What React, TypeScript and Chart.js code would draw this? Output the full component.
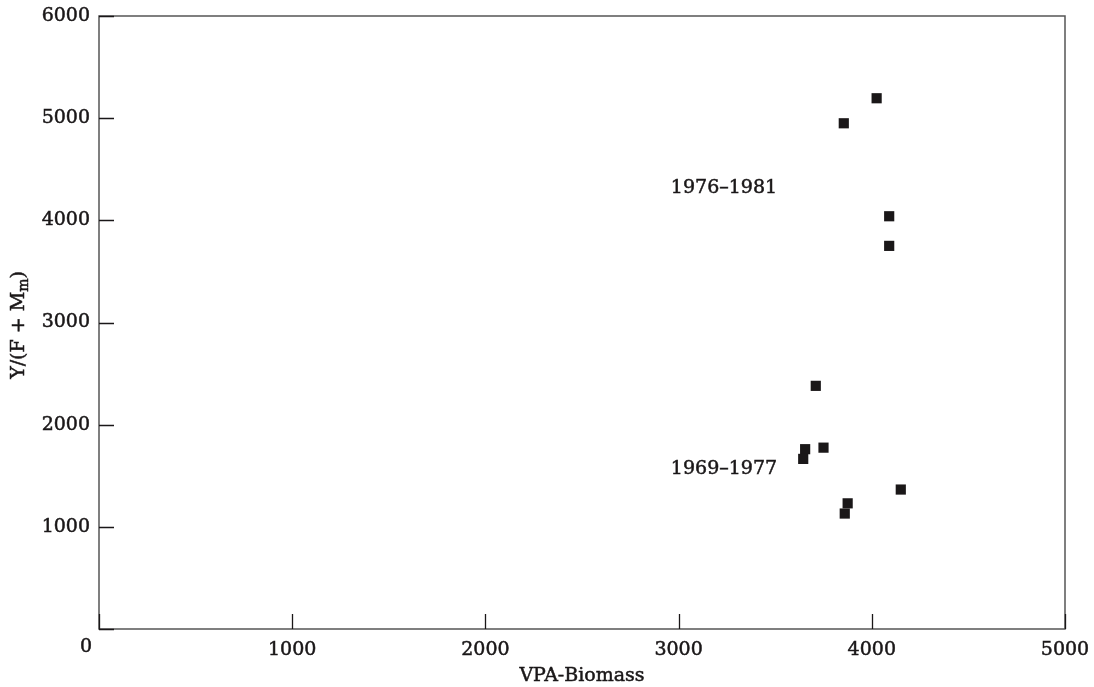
import React, { useEffect, useRef } from "react";
import { Chart, registerables } from "chart.js";

Chart.register(...registerables);

const biomass: number[] = [4025, 3855, 4090, 4090, 3710, 3655, 3645, 3750, 4150, 3875, 3860];
const yieldRatio: number[] = [5195, 4950, 4040, 3750, 2380, 1760, 1665, 1775, 1365, 1230, 1130];

const xTicks: number[] = [0, 1000, 2000, 3000, 4000, 5000];
const yTicks: number[] = [0, 1000, 2000, 3000, 4000, 5000, 6000];

const groupLabels: string[] = ["1976–1981", "1969–1977"];
const groupLabelX: number[] = [2960, 2960];
const groupLabelY: number[] = [4320, 1570];

const FONT = "'DejaVu Serif', serif";
const INK = "#1a1718";
const STROKE = 0.5;

function fillBold(ctx: CanvasRenderingContext2D, t: string, x: number, y: number) {
  ctx.fillText(t, x, y);
  ctx.strokeText(t, x, y);
}

const decorPlugin = {
  id: "decor",
  afterDraw(chart: any) {
    const { ctx, chartArea: a, scales } = chart;
    const xs = scales.x;
    const ys = scales.y;
    ctx.save();
    // frame
    ctx.strokeStyle = "#555";
    ctx.lineWidth = 1.5;
    ctx.strokeRect(a.left, a.top, a.right - a.left, a.bottom - a.top);
    // inward ticks
    ctx.strokeStyle = INK;
    ctx.lineWidth = 1.3;
    ctx.beginPath();
    xTicks.forEach((v) => {
      const px = Math.round(xs.getPixelForValue(v)) + 0.5;
      ctx.moveTo(px, a.bottom);
      ctx.lineTo(px, a.bottom - 15);
    });
    yTicks.forEach((v) => {
      const py = Math.round(ys.getPixelForValue(v)) + 0.5;
      ctx.moveTo(a.left, py);
      ctx.lineTo(a.left + 15, py);
    });
    ctx.stroke();
    ctx.fillStyle = INK;
    ctx.strokeStyle = INK;
    ctx.lineWidth = STROKE;
    // x "0" label shifted left
    ctx.font = `19px ${FONT}`;
    ctx.textAlign = "center";
    ctx.textBaseline = "middle";
    fillBold(ctx, "0", xs.getPixelForValue(0) - 13, a.bottom + 18);
    // group labels
    ctx.textAlign = "left";
    groupLabels.forEach((t, i) => {
      fillBold(ctx, t, xs.getPixelForValue(groupLabelX[i]), ys.getPixelForValue(groupLabelY[i]));
    });
    // x title
    ctx.font = `19px ${FONT}`;
    ctx.textAlign = "center";
    fillBold(ctx, "VPA-Biomass", (a.left + a.right) / 2, a.bottom + 47);
    // y title with subscript
    ctx.translate(18, 325);
    ctx.rotate(-Math.PI / 2);
    ctx.textAlign = "left";
    ctx.textBaseline = "alphabetic";
    const p1 = "Y/(F + M";
    const sub = "m";
    const p2 = ")";
    ctx.font = `19px ${FONT}`;
    const w1 = ctx.measureText(p1).width;
    const w3 = ctx.measureText(p2).width;
    ctx.font = `14px ${FONT}`;
    const w2 = ctx.measureText(sub).width;
    const total = w1 + w2 + w3;
    let x0 = -total / 2;
    const base = 6;
    ctx.font = `19px ${FONT}`;
    fillBold(ctx, p1, x0, base);
    x0 += w1;
    ctx.font = `14px ${FONT}`;
    fillBold(ctx, sub, x0, base + 4);
    x0 += w2;
    ctx.font = `19px ${FONT}`;
    fillBold(ctx, p2, x0, base);
    ctx.restore();
  },
};

export default function App() {
  const ref = useRef<HTMLCanvasElement | null>(null);
  useEffect(() => {
    if (!ref.current) return;
    const chart = new Chart(ref.current, {
      type: "scatter",
      data: {
        datasets: [
          {
            data: biomass.map((x, i) => ({ x, y: yieldRatio[i] })),
            pointStyle: "rect",
            pointRadius: 7.2,
            pointHoverRadius: 7.2,
            backgroundColor: INK,
            borderWidth: 0,
          },
        ],
      },
      options: {
        responsive: false,
        animation: false,
        layout: { padding: { top: 16, right: 29, left: 0, bottom: 0 } },
        plugins: { legend: { display: false }, tooltip: { enabled: false } },
        scales: {
          x: {
            type: "linear",
            min: 0,
            max: 5000,
            afterFit: (s: any) => {
              s.height = 58;
              s.paddingLeft = 0;
              s.paddingRight = 0;
            },
            afterBuildTicks: (s: any) => {
              s.ticks = xTicks.map((v) => ({ value: v }));
            },
            grid: { display: false, drawTicks: false },
            border: { display: false },
            ticks: {
              padding: 10,
              font: { family: FONT, size: 19 },
              color: INK,
              textStrokeColor: INK,
              textStrokeWidth: STROKE,
              maxRotation: 0,
              callback: (v: any) => (v === 0 ? "" : String(v)),
            },
          },
          y: {
            type: "linear",
            min: 0,
            max: 6000,
            afterFit: (s: any) => {
              s.width = 99;
              s.paddingTop = 0;
              s.paddingBottom = 0;
            },
            afterBuildTicks: (s: any) => {
              s.ticks = yTicks.map((v) => ({ value: v }));
            },
            grid: { display: false, drawTicks: false },
            border: { display: false },
            ticks: {
              padding: 9,
              font: { family: FONT, size: 19 },
              color: INK,
              textStrokeColor: INK,
              textStrokeWidth: STROKE,
              callback: (v: any) => (v === 0 ? "" : String(v)),
            },
          },
        },
      },
      plugins: [decorPlugin],
    });
    return () => chart.destroy();
  }, []);
  return (
    <div style={{ position: "absolute", left: 0, top: 0, width: 1094, height: 687, background: "#fff" }}>
      <canvas ref={ref} width={1094} height={687} style={{ width: 1094, height: 687 }} />
    </div>
  );
}
